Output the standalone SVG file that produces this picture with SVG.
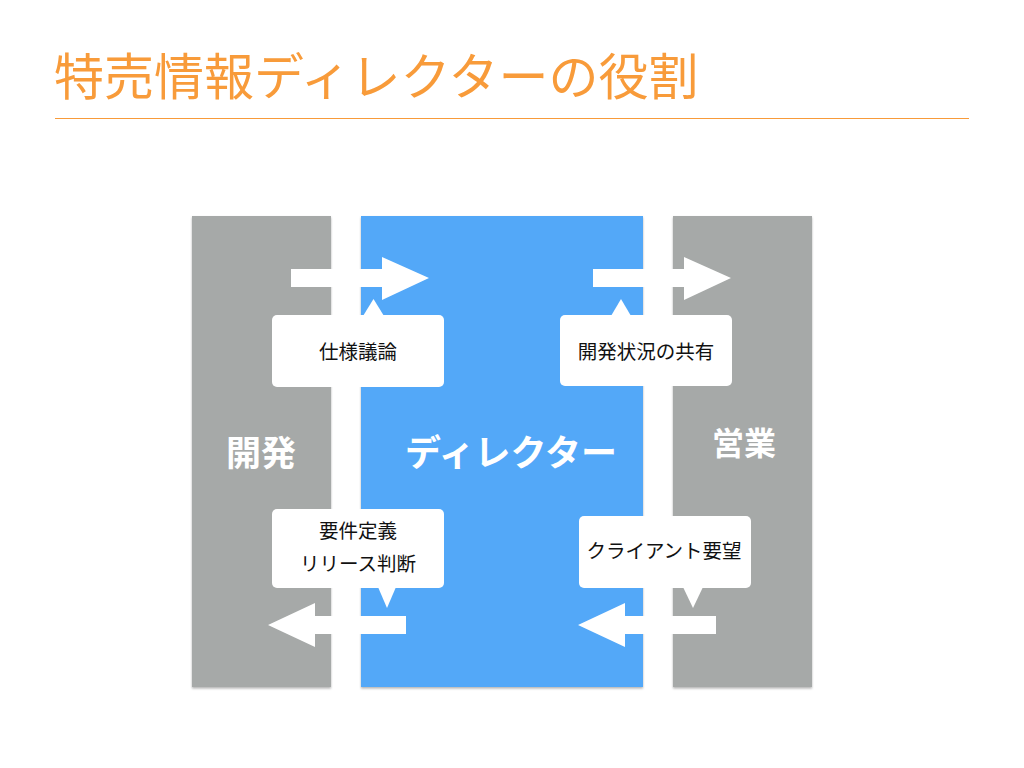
<svg xmlns="http://www.w3.org/2000/svg" width="1024" height="768" viewBox="0 0 1024 768">
<defs>
<filter id="sh" x="-10%" y="-10%" width="120%" height="120%">
<feDropShadow dx="0" dy="1.5" stdDeviation="1.2" flood-color="#000" flood-opacity="0.3"/>
</filter>
<style>
.title{font-family:"Noto Sans CJK JP","Noto Sans",sans-serif;font-weight:400;font-size:50px;fill:#F89B3A}
.col-gray{fill:#A6A9A8}
.col-blue{fill:#53A8F8}
.lbl{font-family:"Noto Sans CJK JP","Noto Sans",sans-serif;font-weight:700;fill:#FFFFFF;text-anchor:middle}
.arrow{fill:#FFFFFF}
.box{fill:#FFFFFF}
.txt{font-family:"Noto Sans CJK JP","Noto Sans",sans-serif;font-size:19.5px;fill:#111;text-anchor:middle}
</style>
</defs>
<rect width="1024" height="768" fill="#FFFFFF"/>
<text class="title" x="54" y="95">特売情報ディレクターの役割</text>
<line x1="55" y1="118.5" x2="969" y2="118.5" stroke="#F89B3A" stroke-width="1.2"/>

<g id="col-dev">
<rect class="col-gray" x="192" y="216" width="139" height="471" filter="url(#sh)"/>
<text class="lbl" x="261" y="466" font-size="35">開発</text>
</g>
<g id="col-director">
<rect class="col-blue" x="361" y="216" width="282" height="471" filter="url(#sh)"/>
<text class="lbl" x="511" y="466" font-size="36">ディレクター</text>
</g>
<g id="col-sales">
<rect class="col-gray" x="673" y="216" width="139" height="471" filter="url(#sh)"/>
<text class="lbl" x="744" y="455" font-size="32">営業</text>
</g>

<g id="connectors">
<polygon class="arrow" points="291,269 382,269 382,257 429,278 382,300 382,287 291,287"/>
<polygon class="arrow" points="593,269 684,269 684,257 731,278 684,300 684,287 593,287"/>
<polygon class="arrow" points="406,616 315,616 315,603 268,625 315,647 315,634 406,634"/>
<polygon class="arrow" points="716,616 625,616 625,603 578,625 625,647 625,634 716,634"/>
</g>

<g id="note-spec">
<rect class="box" x="272" y="315" width="172" height="72" rx="5"/>
<polygon class="box" points="363,316 373.5,299 384,316"/>
<text class="txt" x="358" y="359">仕様議論</text>
</g>
<g id="note-progress">
<rect class="box" x="560" y="315" width="172" height="71" rx="5"/>
<polygon class="box" points="611,316 621,299 631,316"/>
<text class="txt" x="646" y="359">開発状況の共有</text>
</g>
<g id="note-req">
<rect class="box" x="272" y="509" width="172" height="79" rx="5"/>
<polygon class="box" points="378,587 387,608 396,587"/>
<text class="txt" x="358" y="538">要件定義</text>
<text class="txt" x="358" y="571">リリース判断</text>
</g>
<g id="note-client">
<rect class="box" x="579" y="516" width="172" height="72" rx="5"/>
<polygon class="box" points="683,587 693,608 703,587"/>
<text class="txt" x="664" y="558">クライアント要望</text>
</g>
</svg>
